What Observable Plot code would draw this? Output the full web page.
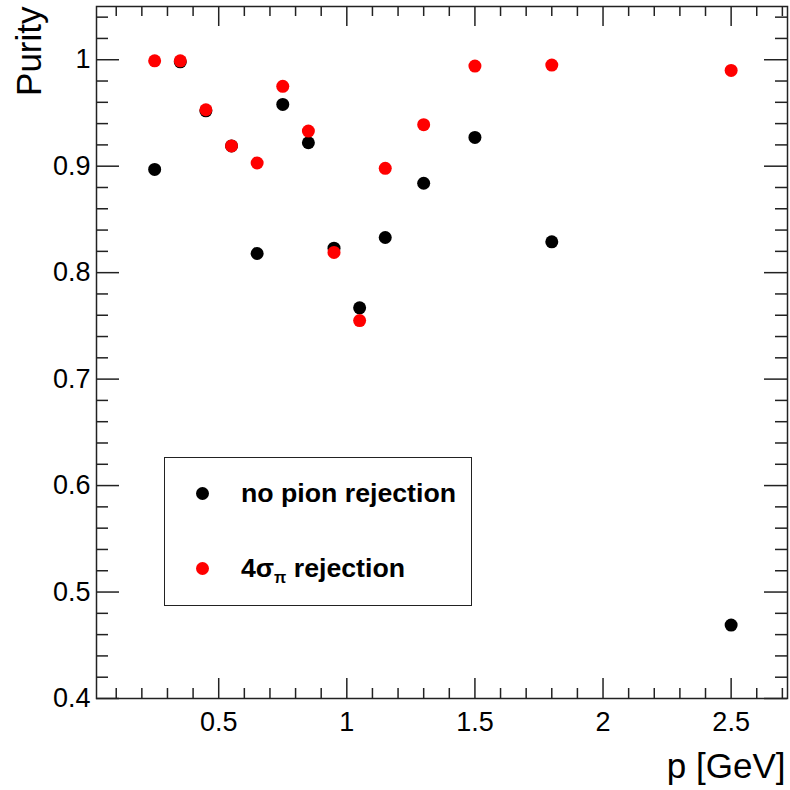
<!DOCTYPE html>
<html>
<head>
<meta charset="utf-8">
<script src="https://cdn.jsdelivr.net/npm/d3@7"></script>
<script src="https://cdn.jsdelivr.net/npm/@observablehq/plot@0.6"></script>
<style>
  html, body { margin: 0; padding: 0; background: #fff; }
  #wrap { position: relative; width: 790px; height: 790px; font-family: "Liberation Sans", Arial, Helvetica, sans-serif; }
  #legend { position: absolute; left: 164px; top: 457px; width: 308px; height: 149px; box-sizing: border-box;
            border: 1.5px solid #222; background: #fff; }
  .entry { position: absolute; left: 0; height: 30px; font-weight: bold; font-size: 26.7px; color: #000; white-space: nowrap; }
  .entry .mk { position: absolute; left: 31px; top: 8px; width: 13px; height: 13px; border-radius: 50%; }
  .entry .tx { position: absolute; left: 76px; top: -1px; line-height: 30px; }
  .entry sub { font-size: 16px; vertical-align: -6px; line-height: 0; }
</style>
</head>
<body>
<div id="wrap"><div id="legend"></div></div>
<script>
// ---- data ----
const momentum = [0.25, 0.35, 0.45, 0.55, 0.65, 0.75, 0.85, 0.95, 1.05, 1.15, 1.3, 1.5, 1.8, 2.5];
const purityNoRejection = [0.897, 0.998, 0.952, 0.919, 0.818, 0.958, 0.922, 0.823, 0.767, 0.833, 0.884, 0.927, 0.829, 0.469];
const purity4Sigma      = [0.999, 0.999, 0.953, 0.919, 0.903, 0.975, 0.933, 0.819, 0.755, 0.898, 0.939, 0.994, 0.995, 0.990];
const seriesNames  = ["no pion rejection", "4σ_π rejection"];
const seriesColors = ["#000000", "#ff0000"];

const xMajorTicks = [0.5, 1, 1.5, 2, 2.5];
const xTickLabels = ["0.5", "1", "1.5", "2", "2.5"];
const xMinorTicks = [0.1, 0.2, 0.3, 0.4, 0.6, 0.7, 0.8, 0.9, 1.1, 1.2, 1.3, 1.4, 1.6, 1.7, 1.8, 1.9, 2.1, 2.2, 2.3, 2.4, 2.6, 2.7];
const yMajorTicks = [0.4, 0.5, 0.6, 0.7, 0.8, 0.9, 1.0];
const yTickLabels = ["0.4", "0.5", "0.6", "0.7", "0.8", "0.9", "1"];
const yMinorTicks = [0.42, 0.44, 0.46, 0.48, 0.52, 0.54, 0.56, 0.58, 0.62, 0.64, 0.66, 0.68, 0.72, 0.74, 0.76, 0.78,
                     0.82, 0.84, 0.86, 0.88, 0.92, 0.94, 0.96, 0.98, 1.02, 1.04];
const xTitle = "p [GeV]";
const yTitle = "Purity";

// ---- build table ----
const series = [purityNoRejection, purity4Sigma];
const table = series.flatMap((vals, s) => momentum.map((p, i) => ({p, purity: vals[i], s})));

// ---- layout ----
const W = 790, H = 790;
const mL = 96, mR = 3, mT = 6, mB = 92;
const fw = W - mL - mR, fh = H - mT - mB;
const tickCol = "#222", tw = 1.5;

const chart = Plot.plot({
  width: W, height: H,
  marginLeft: mL, marginRight: mR, marginTop: mT, marginBottom: mB,
  style: {fontFamily: "Liberation Sans, Arial, Helvetica, sans-serif", fontSize: "27px", background: "#fff", color: "#000"},
  x: {type: "linear", domain: [0.023, 2.72]},
  y: {type: "linear", domain: [0.4, 1.05]},
  marks: [
    // tick labels
    Plot.axisX(xMajorTicks, {anchor: "bottom", tickSize: 0, tickPadding: 13, tickFormat: (d, i) => xTickLabels[i], fontSize: 27, label: null}),
    Plot.axisY(yMajorTicks, {anchor: "left", tickSize: 0, tickPadding: 6, tickFormat: (d, i) => yTickLabels[i], fontSize: 27, label: null}),
    // inward ticks on four sides
    Plot.tickX(xMajorTicks, {x: d => d, insetTop: fh - 20, stroke: tickCol, strokeWidth: tw}),
    Plot.tickX(xMinorTicks, {x: d => d, insetTop: fh - 10, stroke: tickCol, strokeWidth: tw}),
    Plot.tickX(xMajorTicks, {x: d => d, insetBottom: fh - 20, stroke: tickCol, strokeWidth: tw}),
    Plot.tickX(xMinorTicks, {x: d => d, insetBottom: fh - 10, stroke: tickCol, strokeWidth: tw}),
    Plot.tickY(yMajorTicks, {y: d => d, insetRight: fw - 23, stroke: tickCol, strokeWidth: tw}),
    Plot.tickY(yMinorTicks, {y: d => d, insetRight: fw - 12, stroke: tickCol, strokeWidth: tw}),
    Plot.tickY(yMajorTicks, {y: d => d, insetLeft: fw - 23, stroke: tickCol, strokeWidth: tw}),
    Plot.tickY(yMinorTicks, {y: d => d, insetLeft: fw - 12, stroke: tickCol, strokeWidth: tw}),
    Plot.frame({stroke: tickCol, strokeWidth: tw}),
    // axis titles
    Plot.text([xTitle], {frameAnchor: "bottom-right", text: d => d, textAnchor: "end", lineAnchor: "bottom", dx: -2, dy: 79, fontSize: 35, fill: "#000"}),
    Plot.text([yTitle], {frameAnchor: "top-left", text: d => d, textAnchor: "end", lineAnchor: "bottom", rotate: -90, dx: -56, dy: 0, fontSize: 35, fill: "#000"}),
    // data points: black first, red on top
    Plot.dot(table, {x: "p", y: "purity", r: 6.5, fill: d => seriesColors[d.s], stroke: "none"})
  ]
});
document.getElementById("wrap").prepend(chart);

// ---- legend ----
const legend = document.getElementById("legend");
const rowTops = [21, 96];
seriesNames.forEach((name, i) => {
  const e = document.createElement("div");
  e.className = "entry";
  e.style.top = rowTops[i] + "px";
  const mk = document.createElement("span");
  mk.className = "mk";
  mk.style.background = seriesColors[i];
  const tx = document.createElement("span");
  tx.className = "tx";
  const m = name.match(/^(.*?)_(.)(.*)$/);
  if (m) {
    tx.append(m[1]);
    const sub = document.createElement("sub");
    sub.textContent = m[2];
    tx.append(sub, m[3]);
  } else tx.textContent = name;
  e.append(mk, tx);
  legend.append(e);
});
</script>
</body>
</html>
